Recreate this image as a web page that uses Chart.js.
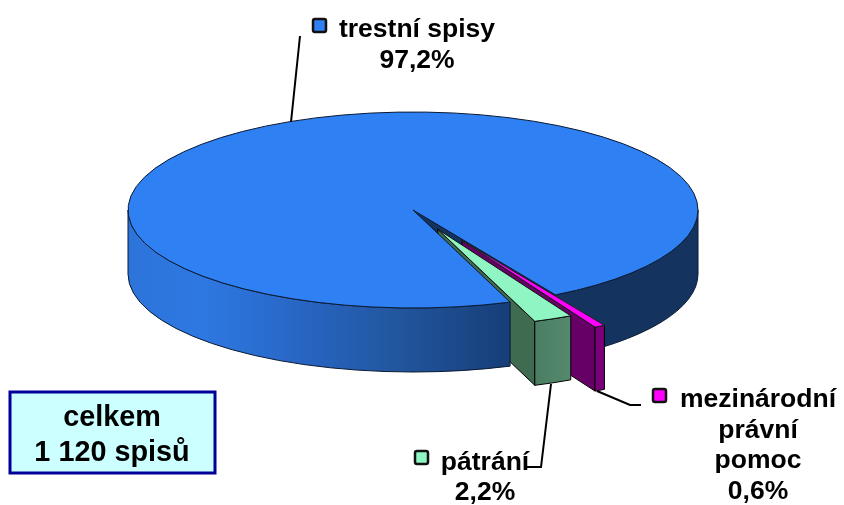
<!DOCTYPE html>
<html><head><meta charset="utf-8">
<style>html,body{margin:0;padding:0;background:#fff}#w{position:relative;width:844px;height:505px}</style>
<script src="https://cdn.jsdelivr.net/npm/chart.js@4"></script>
</head><body><div id="w"><canvas id="c" width="844" height="505"></canvas></div>
<script>
// data (clockwise from the gap in the pie)
const categories = ['mezinárodní právní pomoc', 'pátrání', 'trestní spisy'];
const shares = [0.6, 2.2, 97.2];
const topColors = ['#FF00FF', '#8FF5C3', '#2F80F2'];
const explodeFractions = [0.355, 0.214, 0];
const totalLines = ['celkem', '1 120 spisů'];

const FONT = 'bold 26.5px "Liberation Sans", Arial, sans-serif';
const BOX_FONT = 'bold 28.8px "Liberation Sans", Arial, sans-serif';
const C = {cx: 413, cy: 210, rx: 285, ry: 98, depth: 64};

function project(arc, i) {
  const sx = C.rx / arc.outerRadius, sy = C.ry / arc.outerRadius;
  const mid = (arc.startAngle + arc.endAngle) / 2;
  const e = explodeFractions[i];
  const ox = C.cx + C.rx * e * Math.cos(mid), oy = C.cy + C.ry * e * Math.sin(mid);
  return {sx, sy, ox, oy, pt: a => [ox + C.rx * Math.cos(a), oy + C.ry * Math.sin(a)]};
}
function wedgeTop(ctx, arc, i, stroke) {
  const p = project(arc, i);
  ctx.save(); ctx.translate(p.ox, p.oy); ctx.scale(p.sx, p.sy); ctx.translate(-arc.x, -arc.y);
  arc.draw(ctx);
  ctx.restore();
  ctx.beginPath(); ctx.moveTo(p.ox, p.oy);
  ctx.ellipse(p.ox, p.oy, C.rx, C.ry, 0, arc.startAngle, arc.endAngle);
  ctx.closePath();
  ctx.strokeStyle = stroke; ctx.lineWidth = 1; ctx.stroke();
}
function wallPath(ctx, p, a0, a1) {
  ctx.beginPath();
  ctx.ellipse(p.ox, p.oy, C.rx, C.ry, 0, a0, a1);
  ctx.ellipse(p.ox, p.oy + C.depth, C.rx, C.ry, 0, a1, a0, true);
  ctx.closePath();
}
function cutFace(ctx, p, a, fill, stroke) {
  const q = p.pt(a);
  ctx.beginPath(); ctx.moveTo(p.ox, p.oy); ctx.lineTo(q[0], q[1]);
  ctx.lineTo(q[0], q[1] + C.depth); ctx.lineTo(p.ox, p.oy + C.depth); ctx.closePath();
  ctx.fillStyle = fill; ctx.fill(); ctx.strokeStyle = stroke; ctx.lineWidth = 1; ctx.stroke();
}
const pie3d = {
  id: 'pie3d',
  beforeDatasetDraw(chart) {
    const ctx = chart.ctx;
    const [mag, grn, blu] = chart.getDatasetMeta(0).data;
    const pm = project(mag, 0), pg = project(grn, 1), pb = project(blu, 2);
    const edge = '#0a1a33';
    const gapStart = blu.endAngle - Math.PI * 2;
    // back part: right wall of the big slice and its cut face
    wallPath(ctx, pb, 0, gapStart);
    ctx.fillStyle = '#14335F'; ctx.fill(); ctx.strokeStyle = edge; ctx.lineWidth = 1; ctx.stroke();
    cutFace(ctx, pb, gapStart, '#14335F', edge);
    // magenta slice
    cutFace(ctx, pm, mag.endAngle, '#660066', '#000');
    wallPath(ctx, pm, mag.startAngle, mag.endAngle);
    ctx.fillStyle = '#7A007A'; ctx.fill(); ctx.strokeStyle = '#000'; ctx.stroke();
    // green slice
    cutFace(ctx, pg, grn.endAngle, '#3F6B50', '#000');
    const gg = ctx.createLinearGradient(534, 0, 570, 0);
    gg.addColorStop(0, '#4A7D62'); gg.addColorStop(1, '#55896D');
    wallPath(ctx, pg, grn.startAngle, grn.endAngle);
    ctx.fillStyle = gg; ctx.fill(); ctx.strokeStyle = '#000'; ctx.stroke();
    // front wall + top of the big slice
    const g = ctx.createLinearGradient(127, 0, 510, 0);
    g.addColorStop(0, '#2C74DA'); g.addColorStop(0.2, '#2E78E2');
    g.addColorStop(0.45, '#2866C4'); g.addColorStop(0.7, '#22569F'); g.addColorStop(1, '#163E78');
    wallPath(ctx, pb, blu.startAngle, Math.PI);
    ctx.fillStyle = g; ctx.fill(); ctx.strokeStyle = edge; ctx.stroke();
    wedgeTop(ctx, blu, 2, edge);
    wedgeTop(ctx, mag, 0, '#222');
    wedgeTop(ctx, grn, 1, '#111');
    return false;
  },
  afterDraw(chart) {
    const ctx = chart.ctx;
    ctx.save();
    // leader lines
    ctx.strokeStyle = '#000'; ctx.lineWidth = 2;
    [[[300, 36], [291, 122]], [[551, 384], [541, 467], [527, 467]], [[597, 391], [630, 405], [641, 405]]].forEach(l => {
      ctx.beginPath(); l.forEach((q, i) => i ? ctx.lineTo(q[0], q[1]) : ctx.moveTo(q[0], q[1])); ctx.stroke();
    });
    // legend keys
    const key = (x, y, c) => {
      ctx.beginPath(); ctx.roundRect(x, y, 13, 13, 2);
      ctx.fillStyle = c; ctx.fill(); ctx.lineWidth = 2.5; ctx.strokeStyle = '#111'; ctx.stroke();
    };
    key(313, 19, topColors[2]); key(653, 389, topColors[0]); key(415, 451, topColors[1]);
    // total box
    ctx.fillStyle = '#CCFFFF'; ctx.fillRect(10, 392, 205, 81);
    ctx.strokeStyle = '#000099'; ctx.lineWidth = 3; ctx.strokeRect(10, 392, 205, 81);
    // texts
    ctx.fillStyle = '#000'; ctx.font = FONT; ctx.textAlign = 'center'; ctx.textBaseline = 'alphabetic';
    const fmt = v => v.toFixed(1).replace('.', ',') + '%';
    ctx.fillText(categories[2], 417, 37);
    ctx.fillText(fmt(shares[2]), 417, 68);
    ctx.fillText('mezinárodní', 758, 407);
    ctx.fillText('právní', 758, 438);
    ctx.fillText('pomoc', 758, 468);
    ctx.fillText(fmt(shares[0]), 758, 499);
    ctx.fillText(categories[1], 485, 470);
    ctx.fillText(fmt(shares[1]), 485, 500);
    ctx.font = BOX_FONT;
    ctx.fillText(totalLines[0], 112, 426);
    ctx.fillText(totalLines[1], 112, 461);
    ctx.restore();
  }
};
new Chart(document.getElementById('c'), {
  type: 'pie',
  data: {labels: categories, datasets: [{data: shares, backgroundColor: topColors, borderWidth: 0}]},
  options: {
    responsive: false, animation: false, rotation: 150,
    plugins: {legend: {display: false}, tooltip: {enabled: false}, title: {display: false}}
  },
  plugins: [pie3d]
});
</script></body></html>
